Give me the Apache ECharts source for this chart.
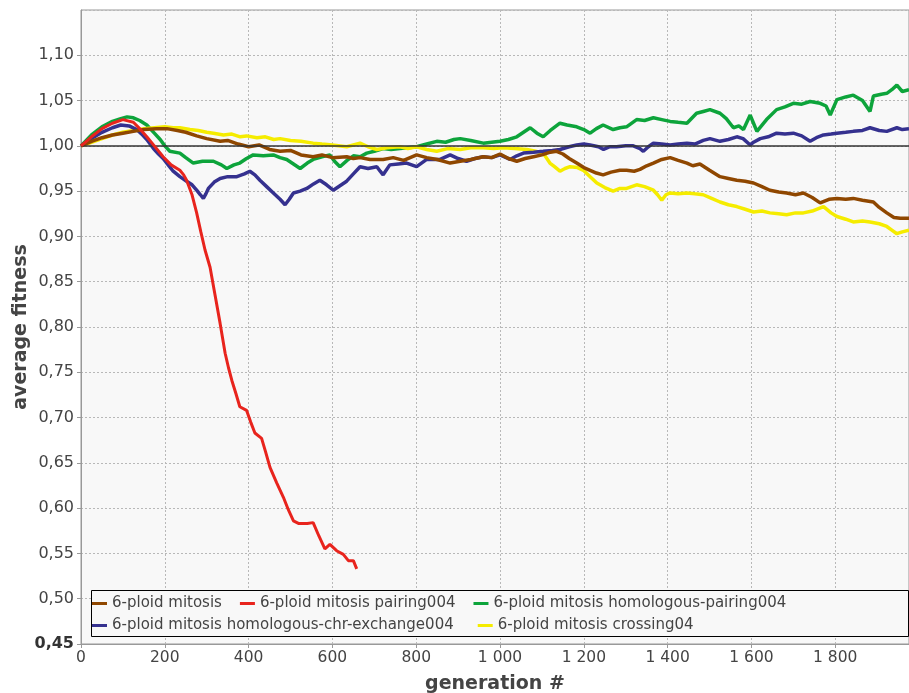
<!DOCTYPE html>
<html>
<head>
<meta charset="utf-8">
<script src="https://cdn.jsdelivr.net/npm/echarts@6/dist/echarts.min.js"></script>
<style>html,body{margin:0;padding:0;background:#fff}#c{width:909px;height:693px}</style>
</head>
<body>
<div id="c"></div>
<script>
const seriesNames = ['6-ploid mitosis','6-ploid mitosis pairing004','6-ploid mitosis homologous-pairing004','6-ploid mitosis homologous-chr-exchange004','6-ploid mitosis crossing04'];
const xTicks = [0,200,400,600,800,1000,1200,1400,1600,1800];
const yTicks = [0.45,0.50,0.55,0.60,0.65,0.70,0.75,0.80,0.85,0.90,0.95,1.00,1.05,1.10];

const mitosis = [[0,1.000],[25,1.005],[50,1.009],[75,1.012],[100,1.014],[125,1.016],[150,1.018],[180,1.019],[205,1.019],[230,1.017],[250,1.015],[276,1.011],[300,1.008],[332,1.005],[350,1.006],[375,1.002],[400,0.999],[425,1.001],[450,0.996],[475,0.994],[500,0.995],[525,0.990],[554,0.988],[575,0.990],[600,0.987],[634,0.988],[650,0.986],[666,0.987],[690,0.985],[721,0.985],[745,0.987],[770,0.984],[801,0.990],[825,0.987],[850,0.985],[881,0.981],[905,0.983],[930,0.985],[960,0.988],[980,0.987],[1000,0.991],[1020,0.986],[1040,0.983],[1060,0.986],[1080,0.988],[1100,0.990],[1120,0.993],[1135,0.994],[1150,0.991],[1165,0.986],[1183,0.981],[1200,0.976],[1215,0.973],[1230,0.970],[1246,0.968],[1265,0.971],[1286,0.973],[1302,0.973],[1320,0.972],[1334,0.974],[1350,0.978],[1366,0.981],[1386,0.985],[1406,0.987],[1425,0.984],[1446,0.981],[1460,0.978],[1477,0.980],[1500,0.973],[1525,0.966],[1545,0.964],[1565,0.962],[1585,0.961],[1605,0.959],[1625,0.955],[1644,0.951],[1665,0.949],[1684,0.948],[1705,0.946],[1724,0.948],[1745,0.943],[1764,0.937],[1785,0.941],[1804,0.942],[1825,0.941],[1843,0.942],[1865,0.940],[1891,0.938],[1905,0.932],[1923,0.926],[1940,0.921],[1955,0.920],[1976,0.920]];

const pairing = [[0,1.000],[25,1.010],[50,1.019],[75,1.025],[100,1.029],[125,1.026],[140,1.019],[157,1.010],[175,1.000],[196,0.988],[215,0.979],[236,0.973],[245,0.968],[252,0.962],[265,0.946],[276,0.926],[286,0.905],[296,0.885],[308,0.866],[320,0.835],[332,0.804],[344,0.771],[352,0.755],[360,0.741],[370,0.726],[379,0.712],[395,0.708],[405,0.695],[415,0.683],[431,0.677],[440,0.663],[451,0.645],[467,0.628],[483,0.612],[495,0.598],[507,0.586],[520,0.583],[540,0.583],[554,0.584],[568,0.569],[582,0.555],[594,0.560],[610,0.553],[626,0.549],[638,0.542],[650,0.542],[658,0.533]];

const homPairing = [[0,1.000],[25,1.012],[50,1.021],[75,1.027],[95,1.030],[110,1.032],[125,1.031],[140,1.028],[157,1.023],[175,1.014],[189,1.007],[200,1.000],[212,0.994],[236,0.992],[250,0.987],[268,0.981],[290,0.983],[316,0.983],[335,0.979],[348,0.975],[365,0.979],[379,0.981],[395,0.986],[411,0.990],[435,0.989],[459,0.990],[475,0.987],[491,0.985],[507,0.980],[523,0.975],[540,0.981],[554,0.985],[575,0.988],[594,0.990],[605,0.983],[618,0.977],[635,0.984],[650,0.989],[666,0.988],[682,0.992],[700,0.994],[721,0.997],[740,0.996],[761,0.997],[780,0.998],[801,0.999],[825,1.002],[849,1.005],[870,1.004],[890,1.007],[905,1.008],[930,1.006],[960,1.003],[980,1.004],[1000,1.005],[1020,1.007],[1040,1.010],[1056,1.015],[1072,1.020],[1088,1.014],[1103,1.010],[1120,1.017],[1143,1.025],[1160,1.023],[1183,1.021],[1200,1.018],[1215,1.014],[1230,1.019],[1246,1.023],[1270,1.018],[1286,1.020],[1302,1.021],[1326,1.029],[1345,1.028],[1366,1.031],[1386,1.029],[1406,1.027],[1425,1.026],[1446,1.025],[1469,1.036],[1485,1.038],[1501,1.040],[1525,1.036],[1540,1.030],[1557,1.020],[1570,1.022],[1581,1.018],[1597,1.034],[1605,1.025],[1613,1.016],[1636,1.029],[1660,1.040],[1680,1.043],[1700,1.047],[1720,1.046],[1740,1.049],[1764,1.047],[1778,1.044],[1788,1.034],[1804,1.051],[1825,1.054],[1843,1.056],[1865,1.050],[1883,1.038],[1891,1.055],[1910,1.057],[1923,1.058],[1935,1.062],[1947,1.067],[1960,1.060],[1976,1.062]];

const homExchange = [[0,1.000],[25,1.008],[50,1.015],[75,1.020],[95,1.023],[115,1.022],[133,1.018],[145,1.013],[157,1.007],[173,0.997],[185,0.991],[196,0.986],[208,0.979],[220,0.972],[236,0.966],[252,0.961],[265,0.957],[276,0.951],[285,0.946],[292,0.942],[298,0.947],[304,0.953],[318,0.960],[332,0.964],[350,0.966],[372,0.966],[390,0.969],[403,0.972],[415,0.968],[427,0.962],[443,0.955],[459,0.948],[475,0.941],[487,0.935],[497,0.941],[507,0.948],[523,0.950],[539,0.953],[555,0.958],[570,0.962],[586,0.957],[602,0.951],[618,0.956],[634,0.961],[650,0.969],[666,0.977],[685,0.975],[706,0.977],[714,0.972],[721,0.968],[737,0.979],[757,0.980],[777,0.981],[801,0.977],[825,0.985],[857,0.985],[881,0.990],[900,0.986],[920,0.983],[940,0.986],[960,0.988],[980,0.987],[1000,0.990],[1024,0.985],[1040,0.989],[1056,0.992],[1080,0.993],[1103,0.994],[1125,0.995],[1143,0.996],[1165,0.999],[1183,1.001],[1200,1.002],[1215,1.001],[1235,0.999],[1247,0.996],[1262,0.999],[1278,0.999],[1300,1.000],[1318,1.000],[1334,0.997],[1342,0.994],[1354,0.999],[1366,1.003],[1386,1.002],[1406,1.001],[1425,1.002],[1446,1.003],[1465,1.002],[1485,1.006],[1501,1.008],[1525,1.005],[1545,1.007],[1565,1.010],[1580,1.008],[1597,1.001],[1605,1.004],[1621,1.008],[1640,1.010],[1660,1.014],[1680,1.013],[1700,1.014],[1720,1.011],[1740,1.005],[1755,1.009],[1772,1.012],[1790,1.013],[1804,1.014],[1825,1.015],[1843,1.016],[1865,1.017],[1883,1.020],[1905,1.017],[1923,1.016],[1947,1.020],[1960,1.018],[1976,1.019]];

const crossing = [[0,1.000],[25,1.004],[50,1.008],[75,1.012],[100,1.015],[125,1.017],[150,1.019],[175,1.020],[200,1.021],[220,1.020],[236,1.020],[260,1.018],[280,1.017],[300,1.015],[316,1.014],[340,1.012],[360,1.013],[380,1.010],[395,1.011],[420,1.009],[440,1.010],[460,1.007],[475,1.008],[500,1.006],[525,1.005],[554,1.003],[575,1.002],[600,1.001],[634,0.999],[650,1.001],[666,1.003],[685,0.999],[706,0.996],[730,0.998],[761,0.999],[780,0.997],[801,0.999],[825,0.996],[849,0.994],[875,0.997],[905,0.996],[930,0.998],[960,0.998],[985,0.997],[1008,0.998],[1035,0.997],[1064,0.996],[1085,0.994],[1103,0.992],[1119,0.981],[1130,0.977],[1143,0.972],[1155,0.975],[1167,0.977],[1185,0.976],[1199,0.973],[1215,0.966],[1231,0.959],[1250,0.954],[1270,0.950],[1286,0.953],[1302,0.953],[1326,0.957],[1345,0.955],[1366,0.951],[1376,0.946],[1386,0.940],[1396,0.946],[1406,0.948],[1425,0.947],[1446,0.948],[1465,0.947],[1485,0.946],[1505,0.942],[1525,0.938],[1545,0.935],[1565,0.933],[1585,0.930],[1605,0.927],[1625,0.928],[1644,0.926],[1665,0.925],[1684,0.924],[1705,0.926],[1724,0.926],[1745,0.928],[1772,0.933],[1790,0.926],[1804,0.922],[1825,0.919],[1843,0.916],[1865,0.917],[1883,0.916],[1905,0.914],[1923,0.911],[1935,0.907],[1947,0.903],[1960,0.905],[1976,0.907]];

const colors = ['#8f4700','#e8241d','#0da43b','#35318f','#f5ec00'];
const FONT = 'DejaVu Sans';
const chart = echarts.init(document.getElementById('c'), null, {renderer:'canvas'});

function fmtX(v){ return xTicks.indexOf(v) >= 0 ? String(v).replace(/\B(?=(\d{3})+(?!\d))/g,' ') : ''; }
function fmtY(v){
  const r = Math.round(v*100)/100;
  let found = yTicks.some(t => Math.abs(t - r) < 1e-6);
  if(!found) return '';
  const s = r.toFixed(2).replace('.',',');
  return Math.abs(r - yTicks[0]) < 1e-6 ? '{b|' + s + '}' : s;
}

const dataSets = [mitosis, pairing, homPairing, homExchange, crossing];
const zs = [4,5,2,3,2];
const widths = [3.5,3,3.5,3.5,3.5];
const series = dataSets.map((d,i) => ({
  name: seriesNames[i], type:'line', data:d, showSymbol:false, symbol:'none',
  lineStyle:{color:colors[i], width:widths[i]}, itemStyle:{color:colors[i]}, z:zs[i], silent:true, animation:false
}));
series[0].markLine = {silent:true, symbol:'none', label:{show:false}, animation:false,
  lineStyle:{color:'#333', width:1.5, type:'solid'}, data:[{yAxis:1}]};

const legendCommon = {orient:'horizontal', padding:0, itemWidth:15, itemHeight:3, icon:'rect', itemGap:18,
  textStyle:{fontFamily:FONT, fontSize:15, color:'#444'}, z:20, selectedMode:false};

chart.setOption({
  backgroundColor:'#fff',
  animation:false,
  grid:{left:81, right:0, top:10, bottom:49, show:true, backgroundColor:'#f8f8f8', borderColor:'#999', borderWidth:1,
    outerBoundsMode:'none', containLabel:false},
  xAxis:{type:'value', min:0, max:1976, interval:200,
    name:'generation #', nameLocation:'middle', nameGap:31, nameMoveOverlap:false,
    nameTextStyle:{fontFamily:FONT, fontSize:19, fontWeight:'bold', color:'#444'},
    axisLine:{show:true, lineStyle:{color:'#999'}},
    axisTick:{show:true, length:4, lineStyle:{color:'#999'}},
    axisLabel:{formatter:fmtX, showMaxLabel:false, fontFamily:FONT, fontSize:15.5, color:'#444', margin:6},
    splitLine:{show:true, lineStyle:{color:'#b8b8b8', type:[2,2], width:1}}
  },
  yAxis:{type:'value', min:0.45, max:1.15, interval:0.05,
    name:'average fitness', nameLocation:'middle', nameGap:50, nameMoveOverlap:false,
    nameTextStyle:{fontFamily:FONT, fontSize:19, fontWeight:'bold', color:'#444'},
    axisLine:{show:true, lineStyle:{color:'#999'}},
    axisTick:{show:true, length:4, lineStyle:{color:'#999'}},
    axisLabel:{formatter:fmtY, showMaxLabel:false, fontFamily:FONT, fontSize:16, color:'#444', margin:7,
      rich:{b:{fontFamily:FONT, fontSize:16, fontWeight:'bold', color:'#333'}}},
    splitLine:{show:true, lineStyle:{color:'#b8b8b8', type:[2,2], width:1}}
  },
  graphic:[{type:'rect', z:15, silent:true, shape:{x:91.5, y:590.5, width:817, height:46},
    style:{fill:'#f8f8f8', stroke:'#000', lineWidth:1}}],
  legend:[
    Object.assign({}, legendCommon, {left:92, top:596, data:seriesNames.slice(0,3)}),
    Object.assign({}, legendCommon, {left:92, top:618, itemGap:24, data:seriesNames.slice(3,5)})
  ],
  series: series
});
</script>
</body>
</html>
